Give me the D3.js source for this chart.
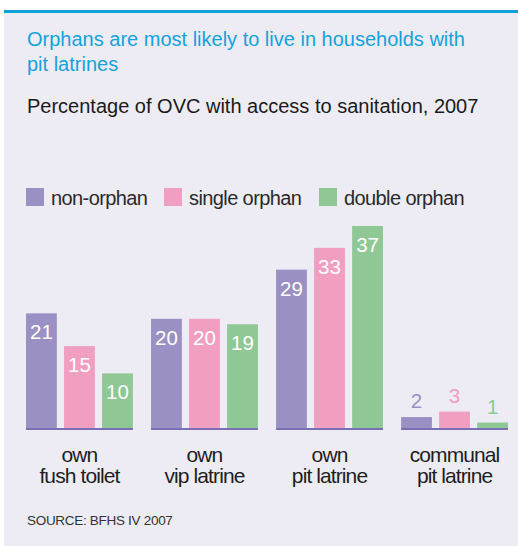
<!DOCTYPE html>
<html>
<head>
<meta charset="utf-8">
<script src="https://cdn.jsdelivr.net/npm/d3@7"></script>
<style>
  body { margin: 0; background: #fff; }
  svg { display: block; }
</style>
</head>
<body>
<div id="chart"></div>
<script>
// data
var categories = ["own|fush toilet", "own|vip latrine", "own|pit latrine", "communal|pit latrine"];
var seriesNames = ["non-orphan", "single orphan", "double orphan"];
var nonOrphan = [21, 20, 29, 2];
var singleOrphan = [15, 20, 33, 3];
var doubleOrphan = [10, 19, 37, 1];

var seriesValues = [nonOrphan, singleOrphan, doubleOrphan];
var colors = ["#9b90c3", "#f09fc1", "#8fc795"];

var W = 518, H = 546;

var svg = d3.select("#chart").append("svg")
    .attr("width", W)
    .attr("height", H);

// panel
svg.append("rect")
    .attr("x", 4).attr("y", 10)
    .attr("width", W - 4).attr("height", H - 10)
    .attr("fill", "#edecf5");
svg.append("rect")
    .attr("x", 4).attr("y", 10)
    .attr("width", W - 4).attr("height", 3)
    .attr("fill", "#0aa2dd");

// titles
var font = "Liberation Sans, Arial, sans-serif";
svg.append("text")
    .attr("x", 27).attr("y", 46)
    .attr("font-family", font).attr("font-size", 20)
    .attr("fill", "#14a2dc")
    .text("Orphans are most likely to live in households with");
svg.append("text")
    .attr("x", 27).attr("y", 71)
    .attr("font-family", font).attr("font-size", 20)
    .attr("fill", "#14a2dc")
    .text("pit latrines");
svg.append("text")
    .attr("x", 27).attr("y", 113)
    .attr("font-family", font).attr("font-size", 20)
    .attr("fill", "#1a1a1a")
    .text("Percentage of OVC with access to sanitation, 2007");

// legend
var legendX = [26, 164, 319];
var legend = svg.append("g");
seriesNames.forEach(function(name, i) {
  legend.append("rect")
      .attr("x", legendX[i]).attr("y", 188)
      .attr("width", 18).attr("height", 18)
      .attr("fill", colors[i]);
  legend.append("text")
      .attr("x", legendX[i] + 25).attr("y", 205)
      .attr("font-family", font).attr("font-size", 20)
      .attr("letter-spacing", -0.6)
      .attr("fill", "#2a2a2a")
      .text(name);
});

// scales
var x0 = d3.scaleBand()
    .domain(categories)
    .range([26, 508])
    .paddingInner(0.145)
    .paddingOuter(0);

var x1 = d3.scaleBand()
    .domain(d3.range(seriesNames.length))
    .range([0, x0.bandwidth()])
    .paddingInner(0.19);

var y = d3.scaleLinear()
    .domain([0, 37])
    .range([428, 226]);

// bars
var groups = svg.selectAll("g.grp")
    .data(categories)
    .enter().append("g")
    .attr("class", "grp")
    .attr("transform", function(d) { return "translate(" + x0(d) + ",0)"; });

groups.each(function(cat, ci) {
  var g = d3.select(this);
  seriesValues.forEach(function(vals, si) {
    var v = vals[ci];
    g.append("rect")
        .attr("x", x1(si))
        .attr("y", y(v))
        .attr("width", x1.bandwidth())
        .attr("height", y(0) - y(v))
        .attr("fill", colors[si]);
    var inside = v >= 5;
    g.append("text")
        .attr("x", x1(si) + x1.bandwidth() / 2)
        .attr("y", inside ? y(v) + 26 : y(v) - 9)
        .attr("text-anchor", "middle")
        .attr("font-family", font).attr("font-size", 20.5)
        .attr("fill", inside ? "#ffffff" : colors[si])
        .text(v);
  });
  // baseline per group
  g.append("line")
      .attr("x1", 0).attr("x2", x0.bandwidth())
      .attr("y1", 429).attr("y2", 429)
      .attr("stroke", "#7a6fb1")
      .attr("stroke-width", 2);
  // category label
  var parts = cat.split("|");
  var t = g.append("text")
      .attr("text-anchor", "middle")
      .attr("font-family", font).attr("font-size", 21)
      .attr("letter-spacing", -0.9)
      .attr("fill", "#1e1e1e");
  parts.forEach(function(p, k) {
    t.append("tspan")
        .attr("x", x0.bandwidth() / 2)
        .attr("y", 462 + k * 21)
        .text(p);
  });
});

// source
svg.append("text")
    .attr("x", 27).attr("y", 525)
    .attr("font-family", font).attr("font-size", 13.5)
    .attr("letter-spacing", -0.3)
    .attr("fill", "#333")
    .text("SOURCE: BFHS IV 2007");
</script>
</body>
</html>
